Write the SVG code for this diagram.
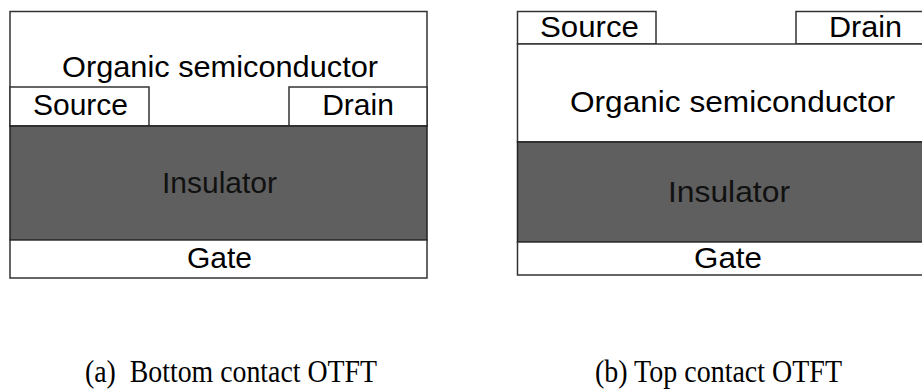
<svg xmlns="http://www.w3.org/2000/svg" width="922" height="389" viewBox="0 0 922 389">
<style>
.box{fill:#fff;stroke:#333;stroke-width:1.5}
.ins{fill:#5f5f5f;stroke:#222;stroke-width:1.5}
.t{font-family:"Liberation Sans",Arial,sans-serif;font-size:30px;fill:#000;text-anchor:middle}
.ti{font-family:"Liberation Sans",Arial,sans-serif;font-size:30px;fill:#111;text-anchor:middle}
.cap{font-family:"Liberation Serif","Times New Roman",serif;font-size:31px;fill:#000}
</style>
<rect width="922" height="389" fill="#fff"/>
<g id="bottom-contact">
  <g id="a-semiconductor"><rect class="box" x="10" y="11.5" width="417" height="114.5"/><text class="t" x="220" y="77" textLength="316" lengthAdjust="spacingAndGlyphs">Organic semiconductor</text></g>
  <g id="a-source"><rect class="box" x="10" y="87" width="139" height="39"/><text class="t" x="80.5" y="115">Source</text></g>
  <g id="a-drain"><rect class="box" x="289" y="87" width="138" height="39"/><text class="t" x="358" y="115">Drain</text></g>
  <g id="a-insulator"><rect class="ins" x="10" y="126" width="417" height="114"/><text class="ti" x="219.5" y="193">Insulator</text></g>
  <g id="a-gate"><rect class="box" x="10" y="240" width="417" height="38"/><text class="t" x="219.5" y="268">Gate</text></g>
</g>
<g id="top-contact">
  <g id="b-source"><rect class="box" x="517.5" y="11.5" width="138.5" height="32.5"/><text class="t" x="589.5" y="37" textLength="99" lengthAdjust="spacingAndGlyphs">Source</text></g>
  <g id="b-drain"><rect class="box" x="796" y="11.5" width="130" height="32.5"/><text class="t" x="865.5" y="37" textLength="73" lengthAdjust="spacingAndGlyphs">Drain</text></g>
  <g id="b-semiconductor"><rect class="box" x="517.5" y="44" width="408.5" height="98"/><text class="t" x="732.5" y="112" textLength="325" lengthAdjust="spacingAndGlyphs">Organic semiconductor</text></g>
  <g id="b-insulator"><rect class="ins" x="517.5" y="142" width="408.5" height="100"/><text class="ti" x="729" y="202" textLength="122" lengthAdjust="spacingAndGlyphs">Insulator</text></g>
  <g id="b-gate"><rect class="box" x="517.5" y="242" width="408.5" height="33"/><text class="t" x="728" y="268" textLength="68" lengthAdjust="spacingAndGlyphs">Gate</text></g>
</g>
<g id="connectors"/>
<text class="cap" x="85" y="382" textLength="292" lengthAdjust="spacingAndGlyphs" xml:space="preserve">(a)  Bottom contact OTFT</text>
<text class="cap" x="595" y="382" textLength="247" lengthAdjust="spacingAndGlyphs">(b) Top contact OTFT</text>
</svg>
